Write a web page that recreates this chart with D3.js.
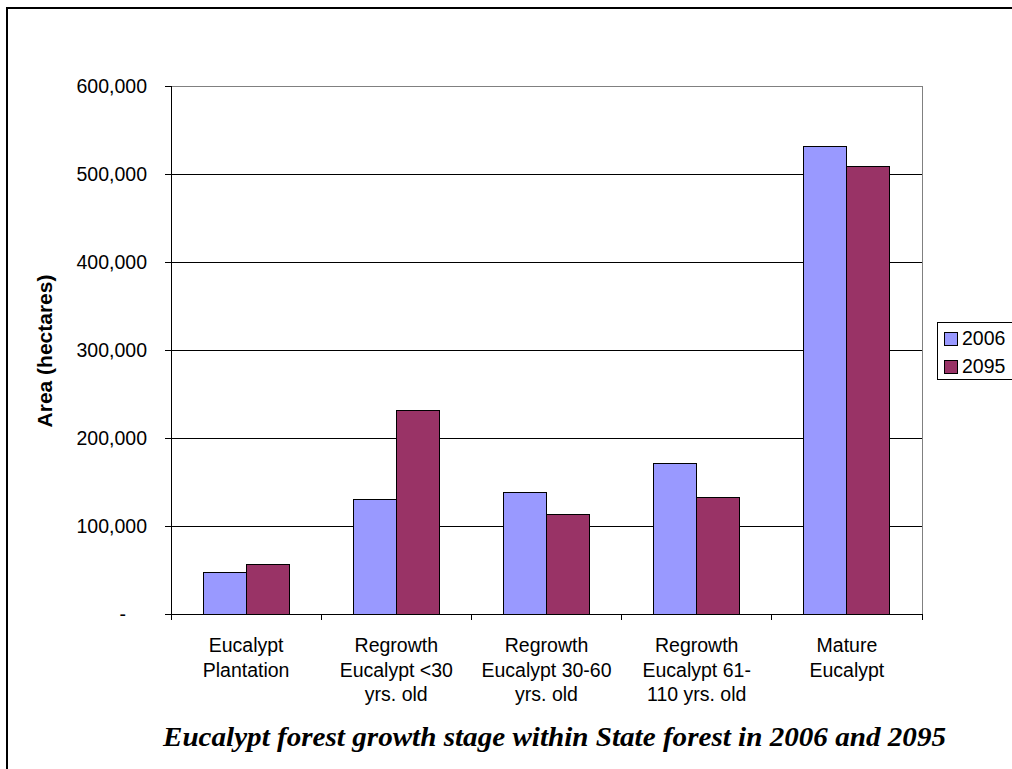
<!DOCTYPE html>
<html>
<head>
<meta charset="utf-8">
<script src="https://cdn.jsdelivr.net/npm/d3@7"></script>
<style>
  body { margin: 0; background: #fff; }
  svg { display: block; font-family: "Liberation Sans", Arial, sans-serif; }
</style>
</head>
<body>
<svg width="1012" height="769"></svg>
<script>
// chart data
const categories = [
  ["Eucalypt", "Plantation"],
  ["Regrowth", "Eucalypt <30", "yrs. old"],
  ["Regrowth", "Eucalypt 30-60", "yrs. old"],
  ["Regrowth", "Eucalypt 61-", "110 yrs. old"],
  ["Mature", "Eucalypt"]
];
const series = ["2006", "2095"];
const values2006 = [47700, 129700, 138000, 171000, 531000];
const values2095 = [56000, 230800, 113000, 132300, 508500];
const yTicks = [0, 100000, 200000, 300000, 400000, 500000, 600000];
const colors = ["#9999FF", "#993366"];

const svg = d3.select("svg");

// outer frame
svg.append("rect")
  .attr("x", 7).attr("y", 8)
  .attr("width", 1020).attr("height", 780)
  .attr("fill", "none")
  .attr("stroke", "#000")
  .attr("stroke-width", 2);

const plotLeft = 171, plotRight = 922, plotTop = 86, plotBottom = 614;

const x0 = d3.scaleBand()
  .domain(d3.range(categories.length))
  .range([plotLeft, plotRight]);

const x1 = d3.scaleBand()
  .domain(series)
  .range([0, x0.bandwidth()])
  .paddingOuter(0.75);

const y = d3.scaleLinear()
  .domain([0, 600000])
  .range([plotBottom, plotTop]);

// gridlines
svg.append("g")
  .selectAll("line")
  .data(yTicks.filter(d => d > 0 && d < 600000))
  .join("line")
  .attr("x1", plotLeft).attr("x2", plotRight)
  .attr("y1", d => y(d)).attr("y2", d => y(d))
  .attr("stroke", "#000")
  .attr("stroke-width", 1)
  .attr("shape-rendering", "crispEdges");

// plot area border (top & right)
svg.append("path")
  .attr("d", `M${plotLeft},${plotTop}H${plotRight}V${plotBottom}`)
  .attr("fill", "none")
  .attr("stroke", "#808080")
  .attr("shape-rendering", "crispEdges");

// bars
const rows = categories.map((c, i) => ({i, vals: [values2006[i], values2095[i]]}));
const groups = svg.append("g")
  .selectAll("g")
  .data(rows)
  .join("g")
  .attr("transform", d => `translate(${x0(d.i)},0)`);

groups.selectAll("rect")
  .data(d => d.vals.map((v, k) => ({v, k})))
  .join("rect")
  .attr("x", d => x1(series[d.k]))
  .attr("width", x1.bandwidth())
  .attr("y", d => y(d.v))
  .attr("height", d => plotBottom - y(d.v))
  .attr("fill", d => colors[d.k])
  .attr("stroke", "#000")
  .attr("stroke-width", 1)
  .attr("shape-rendering", "crispEdges");

// y axis
const fmt = d => d === 0 ? "-" : d3.format(",")(d);
const yAxis = svg.append("g")
  .attr("transform", `translate(${plotLeft},0)`)
  .call(d3.axisLeft(y).tickValues(yTicks).tickFormat(fmt).tickSize(6).tickPadding(18));
yAxis.select(".domain").attr("stroke", "#000").attr("shape-rendering", "crispEdges");
yAxis.selectAll(".tick line").attr("stroke", "#000").attr("shape-rendering", "crispEdges");
yAxis.selectAll("text")
  .attr("font-size", "19.5px")
  .attr("fill", "#000")
  .attr("font-family", "Liberation Sans, Arial, sans-serif");
yAxis.selectAll(".tick")
  .filter(d => d === 0)
  .select("text")
  .attr("dx", "-21");

// x axis
const xTicks = d3.range(categories.length + 1).map(i => plotLeft + i * x0.bandwidth());
svg.append("line")
  .attr("x1", plotLeft).attr("x2", plotRight)
  .attr("y1", plotBottom).attr("y2", plotBottom)
  .attr("stroke", "#000")
  .attr("shape-rendering", "crispEdges");
svg.append("g")
  .selectAll("line")
  .data(xTicks)
  .join("line")
  .attr("x1", d => d).attr("x2", d => d)
  .attr("y1", plotBottom).attr("y2", plotBottom + 6)
  .attr("stroke", "#000")
  .attr("shape-rendering", "crispEdges");

const xLabels = svg.append("g")
  .selectAll("text")
  .data(categories)
  .join("text")
  .attr("x", (d, i) => x0(i) + x0.bandwidth() / 2)
  .attr("y", 652)
  .attr("text-anchor", "middle")
  .attr("font-size", "19.5px")
  .attr("fill", "#000");
xLabels.selectAll("tspan")
  .data(d => d)
  .join("tspan")
  .attr("x", function() { return d3.select(this.parentNode).attr("x"); })
  .attr("dy", (d, i) => i === 0 ? 0 : 24.7)
  .text(d => d);

// y axis title
svg.append("text")
  .attr("transform", "translate(52,351) rotate(-90)")
  .attr("text-anchor", "middle")
  .attr("font-size", "21px")
  .attr("font-weight", "bold")
  .text("Area (hectares)");

// legend
const legend = svg.append("g");
legend.append("rect")
  .attr("x", 937).attr("y", 322)
  .attr("width", 90).attr("height", 57)
  .attr("fill", "#fff")
  .attr("stroke", "#000")
  .attr("shape-rendering", "crispEdges");
series.forEach((s, k) => {
  legend.append("rect")
    .attr("x", 944).attr("y", 332 + k * 28)
    .attr("width", 13).attr("height", 13)
    .attr("fill", colors[k])
    .attr("stroke", "#000")
    .attr("shape-rendering", "crispEdges");
  legend.append("text")
    .attr("x", 962).attr("y", 345 + k * 28)
    .attr("font-size", "19.5px")
    .text(s);
});

// caption
svg.append("text")
  .attr("x", 163).attr("y", 746)
  .attr("font-family", "Liberation Serif, Times New Roman, serif")
  .attr("font-style", "italic")
  .attr("font-weight", "bold")
  .attr("font-size", "27px")
  .attr("textLength", 783)
  .attr("lengthAdjust", "spacingAndGlyphs")
  .text("Eucalypt forest growth stage within State forest in 2006 and 2095");
</script>
</body>
</html>
